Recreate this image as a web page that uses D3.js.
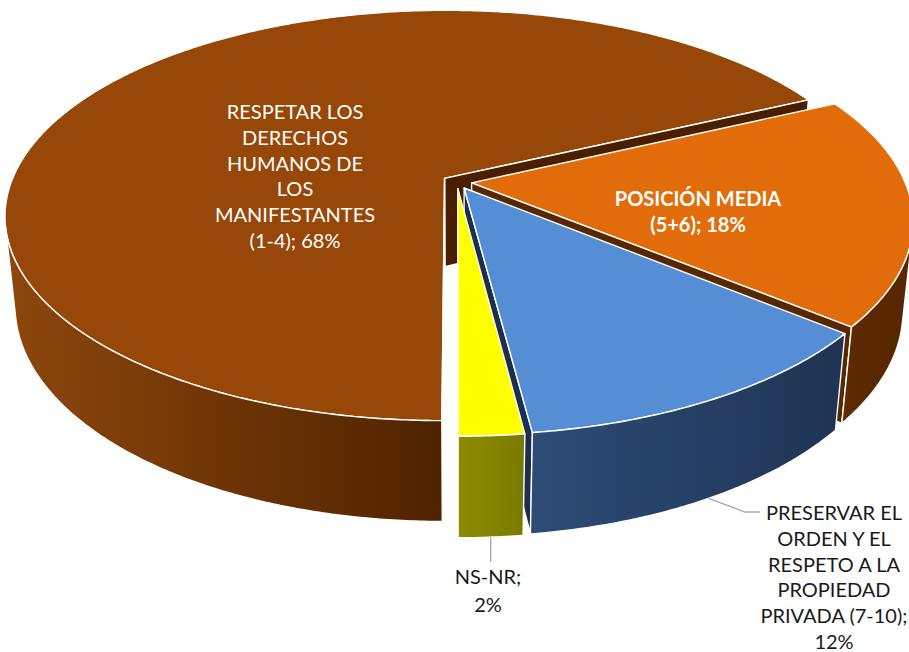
<!DOCTYPE html>
<html>
<head>
<meta charset="utf-8">
<script src="https://cdn.jsdelivr.net/npm/d3@7"></script>
<style>
  html, body { margin: 0; padding: 0; background: #ffffff; }
  svg { display: block; }
</style>
</head>
<body>
<svg id="chart" width="909" height="652"></svg>
<script>
// ---- data ----
const categories = [
  "RESPETAR LOS DERECHOS HUMANOS DE LOS MANIFESTANTES (1-4)",
  "POSICIÓN MEDIA (5+6)",
  "PRESERVAR EL ORDEN Y EL RESPETO A LA PROPIEDAD PRIVADA (7-10)",
  "NS-NR"
];
const values = [68, 18, 12, 2];
// wrapped label lines; {v} is replaced with the slice value
const labelLines = [
  ["RESPETAR LOS", "DERECHOS", "HUMANOS DE", "LOS", "MANIFESTANTES", "(1-4); {v}%"],
  ["POSICIÓN MEDIA", "(5+6); {v}%"],
  ["PRESERVAR EL", "ORDEN Y EL", "RESPETO A LA", "PROPIEDAD", "PRIVADA (7-10);", "{v}%"],
  ["NS-NR;", "{v}%"]
];

// ---- style ----
const topColors  = ["#974707", "#E36C0A", "#558ED5", "#FFFF00"];
const wallColors = [["#8E470C", "#4F2300"], ["#5E2B03", "#552600"], ["#2D4C77", "#1F3453"], ["#8C8C00", "#7A7A00"]];
const cutColors  = ["#4A1F00", "#572700", "#1D2F4D", "#6F6F00"];
const labelStyle = [
  { x: 295, y: 111, lh: 25.8, fill: "#ffffff", weight: 400 },
  { x: 698, y: 198, lh: 25.5, fill: "#ffffff", weight: 700 },
  { x: 834, y: 512, lh: 25.8, fill: "#1a1a1a", weight: 400 },
  { x: 488, y: 576, lh: 27.5, fill: "#1a1a1a", weight: 400 }
];

// ---- 3D projection of a tilted disc seen in perspective ----
const CX = 457, CY = 182;          // screen position of the pie centre
const D = 4.892, F = 2120;          // camera distance and focal length (in radii / px)
const phi = 27.45 * Math.PI / 180;  // elevation of the camera
const sP = Math.sin(phi), cP = Math.cos(phi);
const T = 0.235;                    // thickness of the pie, in radii
const E = 0.034;                    // explosion distance of each slice
const cam = [0, D * sP, -D * cP];

function depth(p) { return D + p[2] * cP - p[1] * sP; }
function proj(p) {
  const z = depth(p);
  const v = p[1] * cP + p[2] * sP;
  return [CX + F * p[0] / z, CY - F * v / z];
}
function facing(n, p) {
  return n[0] * (cam[0] - p[0]) + n[1] * (cam[1] - p[1]) + n[2] * (cam[2] - p[2]) > 0;
}
const meanDepth = pts => d3.mean(pts, depth);

const pie = d3.pie().sort(null).startAngle(Math.PI).endAngle(3 * Math.PI);
const arcs = pie(values);

const svg = d3.select("#chart");
const defs = svg.append("defs");
const faces = [];

arcs.forEach((a, i) => {
  const m = (a.startAngle + a.endAngle) / 2;
  const ox = E * Math.sin(m), oz = E * Math.cos(m);
  const pt = (th, r, Y) => [ox + r * Math.sin(th), Y, oz + r * Math.cos(th)];
  const n = Math.max(2, Math.ceil((a.endAngle - a.startAngle) / (Math.PI / 360)));
  const ths = d3.range(n + 1).map(k => a.startAngle + (a.endAngle - a.startAngle) * k / n);

  // top face
  const top = [pt(0, 0, 0)].concat(ths.map(th => pt(th, 1, 0)));
  faces.push({ pts: top, fill: topColors[i], z: depth(pt(m, 0.55, 0)) });

  // outer wall: group consecutive visible segments
  let run = [];
  const flush = () => {
    if (run.length > 1) {
      const pts = run.map(th => pt(th, 1, 0)).concat(run.slice().reverse().map(th => pt(th, 1, -T)));
      const gid = "wall" + i + "_" + faces.length;
      const g = defs.append("linearGradient").attr("id", gid)
        .attr("x1", 0).attr("y1", 0).attr("x2", 1).attr("y2", 0);
      g.append("stop").attr("offset", 0).attr("stop-color", wallColors[i][0]);
      g.append("stop").attr("offset", 1).attr("stop-color", wallColors[i][1]);
      faces.push({ pts, fill: `url(#${gid})`, z: meanDepth(pts) });
    }
    run = [];
  };
  for (let k = 0; k < n; k++) {
    const th = (ths[k] + ths[k + 1]) / 2;
    const vis = facing([Math.sin(th), 0, Math.cos(th)], pt(th, 1, -T / 2));
    if (vis) { if (!run.length) run.push(ths[k]); run.push(ths[k + 1]); }
    else flush();
  }
  flush();

  // radial cut faces
  const a0 = a.startAngle, a1 = a.endAngle;
  const cuts = [
    { th: a0, nrm: [-Math.cos(a0), 0, Math.sin(a0)] },
    { th: a1, nrm: [Math.cos(a1), 0, -Math.sin(a1)] }
  ];
  cuts.forEach(c => {
    const pts = [pt(0, 0, 0), pt(c.th, 1, 0), pt(c.th, 1, -T), pt(0, 0, -T)];
    if (facing(c.nrm, pt(c.th, 0.5, -T / 2))) {
      faces.push({ pts, fill: cutColors[i], z: meanDepth(pts) });
    }
  });
});

faces.sort((p, q) => q.z - p.z);

svg.append("g").selectAll("path").data(faces).join("path")
  .attr("d", f => "M" + f.pts.map(p => proj(p).join(",")).join("L") + "Z")
  .attr("fill", f => f.fill)
  .attr("stroke", "#ffffff")
  .attr("stroke-width", 1.4)
  .attr("stroke-linejoin", "round");

// ---- leader lines for the outside labels ----
const leader = svg.append("g").attr("fill", "none").attr("stroke", "#A6A6A6").attr("stroke-width", 1.3);
(function () {
  const a = arcs[2];
  const m = (a.startAngle + a.endAngle) / 2;
  const th = a.startAngle + (a.endAngle - a.startAngle) * 0.5;
  const p = proj([E * Math.sin(m) + Math.sin(th), -T, E * Math.cos(m) + Math.cos(th)]);
  leader.append("path").attr("d", `M${p[0]},${p[1]}L745,512L760,512`);
})();
(function () {
  const a = arcs[3];
  const m = (a.startAngle + a.endAngle) / 2;
  const p = proj([E * Math.sin(m) + Math.sin(m), -T, E * Math.cos(m) + Math.cos(m)]);
  leader.append("path").attr("d", `M${p[0]},${p[1]}L${p[0]},562`);
})();

// ---- labels ----
const labels = svg.append("g")
  .attr("font-family", "Lato, 'Open Sans', 'DejaVu Sans', sans-serif")
  .attr("font-size", 20)
  .attr("text-anchor", "middle");
labelLines.forEach((lines, i) => {
  const st = labelStyle[i];
  const t = labels.append("text")
    .attr("fill", st.fill)
    .attr("font-weight", st.weight);
  lines.forEach((ln, k) => {
    t.append("tspan")
      .attr("x", st.x)
      .attr("y", st.y + k * st.lh)
      .attr("dominant-baseline", "central")
      .text(ln.replace("{v}", values[i]));
  });
});
</script>
</body>
</html>
